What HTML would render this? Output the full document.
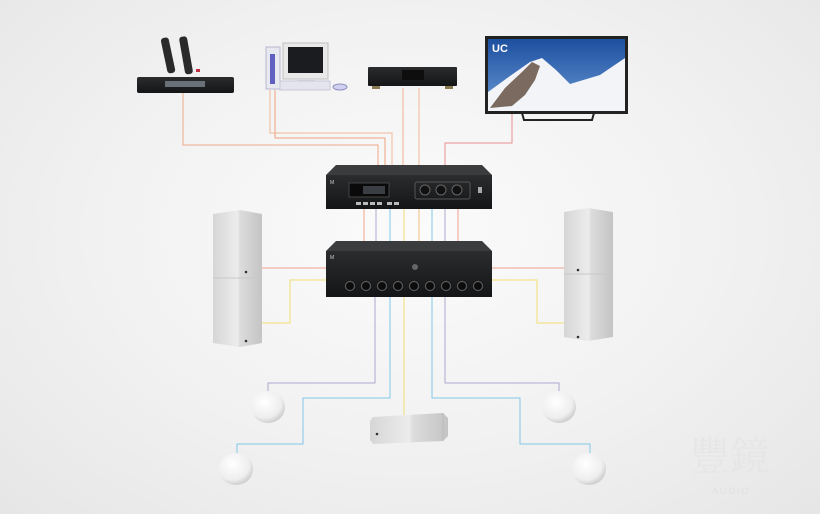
<!DOCTYPE html>
<html><head><meta charset="utf-8"><style>
html,body{margin:0;padding:0}
body{width:820px;height:514px;overflow:hidden;background:radial-gradient(ellipse at 50% 45%,#fbfbfb 0%,#f1f1f1 55%,#e6e6e6 100%);font-family:"Liberation Sans",sans-serif}
svg{position:absolute;left:0;top:0}
</style></head><body>
<svg width="820" height="514" viewBox="0 0 820 514">
<defs>
<linearGradient id="blk" x1="0" y1="0" x2="0" y2="1"><stop offset="0" stop-color="#2a2c2e"/><stop offset="1" stop-color="#141516"/></linearGradient>
<linearGradient id="spk" x1="0" y1="0" x2="1" y2="0"><stop offset="0" stop-color="#d6d6d6"/><stop offset="0.5" stop-color="#ececec"/><stop offset="0.55" stop-color="#dcdcdc"/><stop offset="1" stop-color="#c4c4c4"/></linearGradient>
<linearGradient id="sky" x1="0" y1="0" x2="0" y2="1"><stop offset="0" stop-color="#1d4fa0"/><stop offset="1" stop-color="#6a9ad4"/></linearGradient>
<radialGradient id="ball" cx="0.4" cy="0.35" r="0.75"><stop offset="0" stop-color="#ffffff"/><stop offset="0.65" stop-color="#eeeeee"/><stop offset="1" stop-color="#bdbdbd"/></radialGradient>
</defs>
<g fill="none" stroke-width="1">
<polyline points="183,93 183,145 378,145 378,168" stroke="#f0a888"/>
<polyline points="270,90 270,133 392,133 392,168" stroke="#f0b898"/>
<polyline points="275,90 275,138 385,138 385,168" stroke="#f0a080"/>
<polyline points="403,88 403,168" stroke="#f0b090"/>
<polyline points="419,88 419,168" stroke="#f0b898"/>
<polyline points="512,113 512,143 445,143 445,168" stroke="#e89090"/>
<line x1="364" y1="208" x2="364" y2="242" stroke="#f0a888"/>
<line x1="376" y1="208" x2="376" y2="242" stroke="#b0a8d0"/>
<line x1="390" y1="208" x2="390" y2="242" stroke="#80c8e8"/>
<line x1="404" y1="208" x2="404" y2="242" stroke="#f0e070"/>
<line x1="419" y1="208" x2="419" y2="242" stroke="#f0c080"/>
<line x1="432" y1="208" x2="432" y2="242" stroke="#80c8e8"/>
<line x1="445" y1="208" x2="445" y2="242" stroke="#b0a8d0"/>
<line x1="458" y1="208" x2="458" y2="242" stroke="#f0a090"/>
<polyline points="330,268 255,268" stroke="#f0a090"/>
<polyline points="330,280 290,280 290,323 255,323" stroke="#f0e070"/>
<polyline points="490,268 570,268" stroke="#f0a090"/>
<polyline points="490,280 537,280 537,323 570,323" stroke="#f0e070"/>
<polyline points="375,295 375,383 268,383 268,393" stroke="#b0a8d0"/>
<polyline points="390,295 390,398 303,398 303,444 237,444 237,454" stroke="#80c8e8"/>
<polyline points="404,295 404,415" stroke="#f0e070"/>
<polyline points="432,295 432,398 520,398 520,444 590,444 590,454" stroke="#80c8e8"/>
<polyline points="445,295 445,383 559,383 559,393" stroke="#b0a8d0"/>
</g>

<g transform="rotate(-12 170 55)"><rect x="164" y="37" width="8" height="36" rx="3" fill="#2a2a2a"/></g>
<g transform="rotate(-10 188 55)"><rect x="182" y="36" width="8" height="38" rx="3" fill="#2a2a2a"/></g>
<rect x="196" y="69" width="4" height="3" fill="#c03040"/>
<rect x="137" y="77" width="97" height="16" rx="2" fill="url(#blk)"/>
<rect x="165" y="81" width="40" height="6" fill="#6a7078"/>

<rect x="266" y="47" width="14" height="42" fill="#e8e8f0" stroke="#b8b8d0"/>
<rect x="270" y="54" width="5" height="30" fill="#6060c0"/>
<rect x="283" y="43" width="45" height="36" fill="#e8e8e8" stroke="#c0c0c0"/>
<rect x="288" y="47" width="35" height="26" fill="#1a1c20"/>
<rect x="297" y="79" width="18" height="5" fill="#d8d8e0"/>
<rect x="280" y="81" width="50" height="9" fill="#e4e4ee" stroke="#c8c8d8"/>
<ellipse cx="340" cy="87" rx="7" ry="3" fill="#d0d0f0" stroke="#9090c0"/>

<rect x="368" y="67" width="89" height="19" rx="1" fill="url(#blk)"/>
<rect x="402" y="70" width="22" height="10" fill="#0e0e0e"/>
<rect x="372" y="86" width="8" height="3" fill="#8a7a50"/><rect x="445" y="86" width="8" height="3" fill="#8a7a50"/>

<rect x="485" y="36" width="143" height="78" fill="#222"/>
<rect x="488" y="39" width="137" height="72" fill="url(#sky)"/>
<polygon points="488,111 488,92 510,76 530,62 542,58 556,70 570,84 600,75 625,58 625,111" fill="#f2f4f8"/>
<polygon points="490,108 505,88 522,72 532,62 540,66 535,80 525,95 512,106" fill="#7a6a60"/>
<text x="492" y="52" font-size="11" font-weight="bold" fill="#fff">UC</text>
<polyline points="522,113 524,120 592,120 594,113" fill="none" stroke="#222" stroke-width="2"/>

<polygon points="326,175 336,165 482,165 492,175" fill="#3a3c3e"/>
<rect x="326" y="175" width="166" height="34" fill="url(#blk)"/>
<rect x="349" y="183" width="40" height="14" fill="#0a0a0a" stroke="#444"/>
<rect x="363" y="186" width="22" height="8" fill="#3a3e44"/>
<rect x="415" y="182" width="55" height="17" fill="none" stroke="#555" rx="2"/>
<circle cx="425" cy="190" r="5" fill="#111" stroke="#666"/><circle cx="441" cy="190" r="5" fill="#111" stroke="#666"/><circle cx="457" cy="190" r="5" fill="#111" stroke="#666"/>
<g fill="#bbb"><rect x="356" y="202" width="5" height="3"/><rect x="363" y="202" width="5" height="3"/><rect x="370" y="202" width="5" height="3"/><rect x="377" y="202" width="5" height="3"/><rect x="387" y="202" width="5" height="3"/><rect x="394" y="202" width="5" height="3"/></g>
<rect x="478" y="187" width="4" height="6" fill="#aaa"/>
<text x="330" y="184" font-size="5" fill="#ccc">M</text>

<polygon points="326,251 336,241 482,241 492,251" fill="#3a3c3e"/>
<rect x="326" y="251" width="166" height="46" fill="url(#blk)"/>
<text x="330" y="259" font-size="5" fill="#ccc">M</text>
<circle cx="415" cy="267" r="3" fill="#666"/>
<g fill="#0c0c0c" stroke="#666">
<circle cx="350" cy="286" r="4.5"/><circle cx="366" cy="286" r="4.5"/><circle cx="382" cy="286" r="4.5"/><circle cx="398" cy="286" r="4.5"/><circle cx="414" cy="286" r="4.5"/><circle cx="430" cy="286" r="4.5"/><circle cx="446" cy="286" r="4.5"/><circle cx="462" cy="286" r="4.5"/><circle cx="478" cy="286" r="4.5"/>
</g>

<polygon points="213,214 240,210 262,214 262,343 240,347 213,343" fill="url(#spk)"/>
<line x1="213" y1="278" x2="262" y2="278" stroke="#c8c8c8"/>
<circle cx="246" cy="341" r="1.3" fill="#333"/><circle cx="246" cy="272" r="1.3" fill="#333"/>
<polygon points="564,212 588,208 613,212 613,337 588,341 564,337" fill="url(#spk)"/>
<line x1="564" y1="274" x2="613" y2="274" stroke="#c8c8c8"/>
<circle cx="578" cy="337" r="1.3" fill="#333"/><circle cx="578" cy="270" r="1.3" fill="#333"/>

<polygon points="373,417 443,413 448,418 448,436 443,441 373,444 370,440 370,421" fill="url(#spk)"/>
<line x1="443" y1="413" x2="443" y2="441" stroke="#bbb"/>
<circle cx="377" cy="434" r="1.3" fill="#333"/>

<g><line x1="268" y1="393" x2="268" y2="400" stroke="#ccc"/><ellipse cx="268" cy="407" rx="17" ry="16" fill="url(#ball)"/></g>
<g><line x1="559" y1="393" x2="559" y2="400" stroke="#ccc"/><ellipse cx="559" cy="407" rx="17" ry="16" fill="url(#ball)"/></g>
<g><line x1="237" y1="454" x2="237" y2="461" stroke="#ccc"/><ellipse cx="236" cy="469" rx="17" ry="16" fill="url(#ball)"/></g>
<g><line x1="590" y1="454" x2="590" y2="461" stroke="#ccc"/><ellipse cx="589" cy="469" rx="17" ry="16" fill="url(#ball)"/></g>

<text x="690" y="470" font-size="40" fill="#e6e6e6" font-family="Noto Serif CJK SC, serif">豐鏡</text>
<text x="712" y="494" font-size="9" fill="#e0e0e0" letter-spacing="2">AUDIO</text>
</svg>
</body></html>
